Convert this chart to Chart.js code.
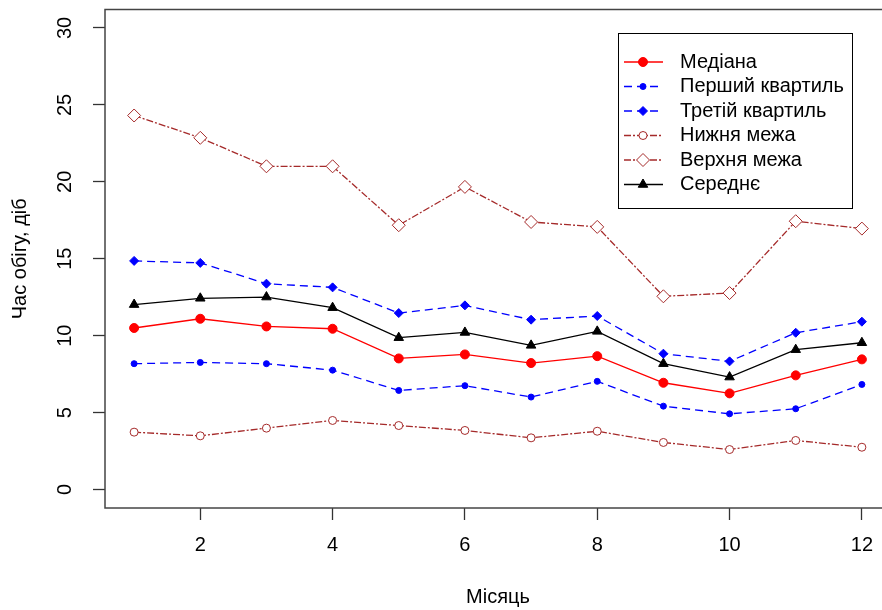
<!DOCTYPE html>
<html>
<head>
<meta charset="utf-8">
<script src="https://cdn.jsdelivr.net/npm/chart.js@4.4.1/dist/chart.umd.min.js"></script>
<style>
    html, body { margin: 0; padding: 0; background: #fff; overflow: hidden; }
    #wrap { position: relative; width: 900px; height: 610px; }
</style>
</head>
<body>
<div id="wrap"><canvas id="myChart"></canvas></div>
<script>
// months and series
var months = [1, 2, 3, 4, 5, 6, 7, 8, 9, 10, 11, 12];
var median = [10.5, 11.1, 10.6, 10.45, 8.52, 8.78, 8.22, 8.67, 6.94, 6.25, 7.42, 8.46];
var firstQuartile = [8.18, 8.26, 8.18, 7.76, 6.44, 6.75, 6.01, 7.03, 5.42, 4.92, 5.25, 6.83];
var thirdQuartile = [14.86, 14.73, 13.38, 13.14, 11.47, 11.97, 11.04, 11.28, 8.83, 8.33, 10.19, 10.91];
var lowerLimit = [3.73, 3.49, 3.99, 4.49, 4.16, 3.84, 3.36, 3.79, 3.06, 2.6, 3.19, 2.75];
var upperLimit = [24.31, 22.86, 21.01, 21.01, 17.18, 19.67, 17.39, 17.07, 12.56, 12.77, 17.44, 16.96];
var meanValue = [12.02, 12.43, 12.51, 11.82, 9.87, 10.21, 9.37, 10.28, 8.18, 7.31, 9.09, 9.54];

var seriesNames = ['Медіана', 'Перший квартиль', 'Третій квартиль', 'Нижня межа', 'Верхня межа', 'Середнє'];
var xTicks = [2, 4, 6, 8, 10, 12];
var yTicks = [0, 5, 10, 15, 20, 25, 30];

var FONT = "'Liberation Sans', Arial, sans-serif";
Chart.defaults.font.family = FONT;
Chart.defaults.font.size = 20;
Chart.defaults.color = '#000';

function pts(values) {
    return months.map(function (m, i) { return {x: m, y: values[i]}; });
}

function series(label, values, color, dash, style, radius, fill) {
    return {
        label: label,
        data: pts(values),
        borderColor: color,
        borderWidth: 1.3,
        borderDash: dash,
        pointStyle: style,
        pointRadius: radius,
        pointHoverRadius: radius,
        pointBackgroundColor: fill,
        pointBorderColor: color,
        pointBorderWidth: 1,
        tension: 0,
        fill: false
    };
}

var BROWN = '#a52a2a';
var datasets = [
    series(seriesNames[0], median, '#ff0000', [], 'circle', 4.5, '#ff0000'),
    series(seriesNames[1], firstQuartile, '#0000ff', [8, 5], 'circle', 3, '#0000ff'),
    series(seriesNames[2], thirdQuartile, '#0000ff', [8, 5], 'rectRot', 4.5, '#0000ff'),
    series(seriesNames[3], lowerLimit, BROWN, [7, 2, 2, 2], 'circle', 4, '#ffffff'),
    series(seriesNames[4], upperLimit, BROWN, [7, 2, 2, 2], 'rectRot', 6.5, '#ffffff'),
    series(seriesNames[5], meanValue, '#000000', [], 'triangle', 5.5, '#000000')
];

// frame round the plot region
var boxPlugin = {
    id: 'boxPlugin',
    afterDraw: function (chart) {
        var a = chart.chartArea;
        var ctx = chart.ctx;
        ctx.save();
        ctx.strokeStyle = '#444';
        ctx.lineWidth = 1.5;
        ctx.strokeRect(a.left, a.top, a.right - a.left, a.bottom - a.top);
        ctx.restore();
    }
};

// R-style legend box inside the plot
var legendBox = {
    id: 'legendBox',
    afterDatasetsDraw: function (chart) {
        var ctx = chart.ctx;
        var x0 = 618, y0 = 33, w = 234, h = 175;
        ctx.save();
        ctx.fillStyle = '#fff';
        ctx.fillRect(x0, y0, w, h);
        ctx.strokeStyle = '#000';
        ctx.lineWidth = 1;
        ctx.strokeRect(x0 + 0.5, y0 + 0.5, w, h);
        chart.data.datasets.forEach(function (ds, i) {
            var y = 62 + i * 24.5;
            ctx.strokeStyle = ds.borderColor;
            ctx.lineWidth = ds.borderWidth;
            ctx.setLineDash(ds.borderDash);
            ctx.beginPath();
            ctx.moveTo(624, y);
            ctx.lineTo(663, y);
            ctx.stroke();
            ctx.setLineDash([]);
            ctx.fillStyle = ds.pointBackgroundColor;
            ctx.strokeStyle = ds.pointBorderColor;
            ctx.lineWidth = ds.pointBorderWidth;
            Chart.helpers.drawPoint(ctx, {
                pointStyle: ds.pointStyle,
                radius: ds.pointRadius,
                rotation: 0,
                borderWidth: ds.pointBorderWidth
            }, 643, y);
            ctx.fillStyle = '#000';
            ctx.font = '20px ' + FONT;
            ctx.textBaseline = 'middle';
            ctx.textAlign = 'left';
            ctx.fillText(ds.label, 680, y);
        });
        ctx.restore();
    }
};

var ctx = document.getElementById('myChart');
var chart = new Chart(ctx, {
    type: 'line',
    data: {datasets: datasets},
    plugins: [boxPlugin, legendBox],
    options: {
        responsive: true,
        maintainAspectRatio: false,
        animation: false,
        layout: {padding: {top: 9.5, right: 9, left: 0, bottom: 0}},
        plugins: {legend: {display: false}, tooltip: {enabled: false}},
        scales: {
            x: {
                type: 'linear',
                min: 0.56,
                max: 12.44,
                afterBuildTicks: function (s) { s.ticks = xTicks.map(function (v) { return {value: v}; }); },
                afterFit: function (s) { s.height = 102; s.paddingLeft = 0; s.paddingRight = 0; },
                grid: {display: true, drawOnChartArea: false, drawTicks: true, tickLength: 12, color: '#333', tickWidth: 1.3},
                border: {display: false},
                ticks: {padding: 13, maxRotation: 0, minRotation: 0, color: '#000'},
                title: {display: true, text: 'Місяць', padding: {top: 0, bottom: 1}, color: '#000'}
            },
            y: {
                type: 'linear',
                min: -1.2,
                max: 31.2,
                afterBuildTicks: function (s) { s.ticks = yTicks.map(function (v) { return {value: v}; }); },
                afterFit: function (s) { s.width = 105; s.paddingTop = 0; s.paddingBottom = 0; },
                grid: {display: true, drawOnChartArea: false, drawTicks: true, tickLength: 12, color: '#333', tickWidth: 1.3},
                border: {display: false},
                ticks: {padding: 16, minRotation: 90, maxRotation: 90, crossAlign: 'center', color: '#000'},
                title: {display: true, text: 'Час обігу, діб', padding: {top: 8, bottom: 0}, color: '#000'}
            }
        }
    }
});
</script>
</body>
</html>
